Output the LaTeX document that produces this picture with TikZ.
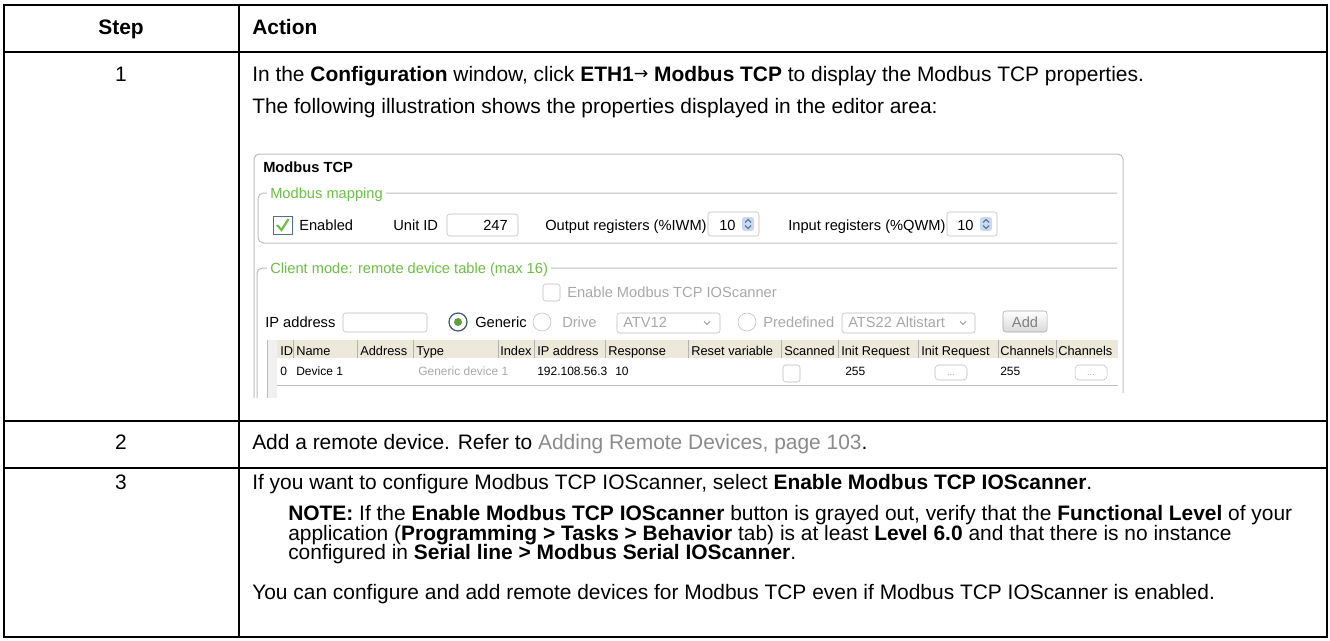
\documentclass[tikz,border=0pt]{standalone}
\usepackage{fontspec}
\setmainfont{Liberation Sans}
\newfontfamily\arrowfont{DejaVu Sans}
\usetikzlibrary{positioning,arrows.meta}
\definecolor{linkgray}{HTML}{8A8A8A}
\definecolor{greytext}{HTML}{A8A8A8}
\definecolor{mapgreen}{HTML}{6DBE45}
\definecolor{framegray}{HTML}{BDBDBD}
\definecolor{headtan}{HTML}{ECE9DA}
\definecolor{boxblue}{HTML}{4F6F8F}
\definecolor{spinblue}{HTML}{C9D8F0}
\tikzstyle{grid} = [
line width=1.5pt
]
\tikzstyle{body} = [
font=\fontsize{15.7}{18}\selectfont,
inner sep=0pt,
anchor=base west
]
\tikzstyle{head} = [
body,
font=\fontsize{15.7}{18}\selectfont\bfseries
]
\tikzstyle{ui} = [
font=\fontsize{11}{13}\selectfont,
inner sep=0pt,
anchor=base west
]
\tikzstyle{uigray} = [
ui,
text=greytext
]
\tikzstyle{tab} = [
ui,
font=\fontsize{9.6}{11}\selectfont
]
\tikzstyle{cell} = [
ui,
font=\fontsize{9}{11}\selectfont
]
\tikzstyle{group} = [
ui,
text=mapgreen,
fill=white,
inner xsep=2.25pt,
inner ysep=1pt
]
\tikzstyle{frame} = [
draw=framegray,
line width=0.75pt
]
\tikzstyle{field} = [
draw=framegray,
fill=white,
rounded corners=2pt
]
\newcommand{\spinner}[1]{%
\begin{scope}[shift={#1}]
\fill[spinblue,rounded corners=2pt] (-6,-7) rectangle (6,7);
\draw[boxblue,line width=0.8pt] (-3,-1.5) -- (0,-4.5) -- (3,-1.5);
\draw[boxblue,line width=0.8pt] (-3,1.5) -- (0,4.5) -- (3,1.5);
\end{scope}}
\newcommand{\dropdown}[1]{%
\begin{scope}[shift={#1}]
\draw[framegray!80!black,line width=0.7pt] (-3,-1.5) -- (0,1.5) -- (3,-1.5);
\end{scope}}
\begin{document}
\begin{tikzpicture}[x=0.75pt,y=-0.75pt]
\useasboundingbox (0,0) rectangle (1330,640);
%Grid
\draw[grid] (4,5) rectangle (1327,637);
\draw[grid] (239,5) -- (239,637);
\draw[grid] (4,52) -- (1327,52);
\draw[grid] (4,421) -- (1327,421);
\draw[grid] (4,468) -- (1327,468);
%Header
\node[head,anchor=base] (step) at (121,34) {Step};
\node[head] (action) at (252,34) {Action};
%Step 1
\node[body,anchor=base] (num1) at (121,81) {1};
\node[body] (click) at (252,81) {In the \textbf{Configuration} window, click \textbf{ETH1}\raisebox{1.5pt}{\arrowfont\fontsize{13}{15}\selectfont →} \textbf{Modbus TCP} to display the Modbus TCP properties.};
\node[body] (shows) at (252,113) {The following illustration shows the properties displayed in the editor area:};
%Screenshot
\draw[frame,rounded corners=4pt] (254,398) -- (254,154) -- (1123,154) -- (1123,393);
\node[ui,font=\fontsize{11}{13}\selectfont\bfseries] (title) at (263,172) {Modbus TCP};
\draw[frame,rounded corners=4pt] (1117,193) -- (258,193) -- (258,243) -- (1117,243);
\node[group] (mapping) at (267,198) {Modbus mapping};
\draw[draw=boxblue,fill=white] (273,216) rectangle (292,234);
\draw[mapgreen,line width=1.6pt] (277,225) -- (281.5,230) -- (288.5,219);
\node[ui] (enabled) at (299,230) {Enabled};
\node[ui] (unitid) at (393,230) {Unit ID};
\draw[field] (447,214) rectangle (518,236);
\node[ui,anchor=base east] (unitval) at (508,230) {247};
\node[ui] (outreg) at (545,230) {Output registers (\%IWM)};
\draw[field] (708,212) rectangle (759,236);
\node[ui] (outval) at (719,230) {10};
\spinner{(748,224)}
\node[ui] (inreg) at (788,230) {Input registers (\%QWM)};
\draw[field] (947,212) rectangle (997,236);
\node[ui] (inval) at (957,230) {10};
\spinner{(986,224)}
\draw[frame,rounded corners=4pt] (1117,268) -- (257,268) -- (257,398);
\node[group] (client) at (267,273) {Client mode: remote device table (max 16)};
\draw[field] (543,284) rectangle (560,301);
\node[uigray] (scanner) at (567,297) {Enable Modbus TCP IOScanner};
\node[ui] (ipaddr) at (265,327) {IP address};
\draw[field] (343,313) rectangle (427,332);
\draw[draw=boxblue!80!black,fill=white,line width=0.9pt] (458,322) circle (9);
\fill[mapgreen!85!black] (458,322) circle (4);
\node[ui] (generic) at (475,327) {Generic};
\draw[draw=framegray,fill=white] (542,322) circle (9);
\node[uigray] (drive) at (562,327) {Drive};
\draw[field] (617,313) rectangle (720,333);
\node[uigray] (atv) at (623,327) {ATV12};
\dropdown{(707,323)}
\draw[draw=framegray,fill=white] (747,322) circle (9);
\node[uigray] (predef) at (763,327) {Predefined};
\draw[field] (842,313) rectangle (975,333);
\node[uigray] (ats) at (848,327) {ATS22 Altistart};
\dropdown{(963,323)}
\draw[draw=gray!70,rounded corners=2pt,top color=white,bottom color=gray!30] (1003,311) rectangle (1047,332);
\node[uigray,anchor=base,text=gray] (add) at (1025,327) {Add};
%Device table
\fill[headtan] (277,340) rectangle (1118,358);
\fill[gray!12] (267,340) rectangle (277,398);
\draw[frame] (267,340) -- (267,398);
\foreach \x/\t in {280/ID,296/Name,360/Address,416/Type,500/Index,537/IP address,608/Response,691/Reset variable,784/Scanned,841/Init Request,921/Init Request,1000/Channels,1058/Channels}
\node[tab] (col\x) at (\x,355) {\t};
\foreach \x in {293,357,413,498,534,605,688,781,838,918,998,1056}
\draw[frame,draw=gray!60] (\x,340) -- (\x,358);
\node[cell] (devid) at (280,375) {0};
\node[cell] (devname) at (296,375) {Device 1};
\node[cell,text=greytext] (devtype) at (418,375) {Generic device 1};
\node[cell] (devip) at (537,375) {192.108.56.3};
\node[cell] (devresp) at (615,375) {10};
\draw[field] (783,365) rectangle (800,382);
\node[cell] (initval) at (845,375) {255};
\draw[field,rounded corners=3pt] (935,365) rectangle (967,380);
\node[cell,anchor=base,text=greytext,font=\fontsize{7}{8}\selectfont] (initbtn) at (951,375) {...};
\node[cell] (chanval) at (1000,375) {255};
\draw[field,rounded corners=3pt] (1075,365) rectangle (1107,380);
\node[cell,anchor=base,text=greytext,font=\fontsize{7}{8}\selectfont] (chanbtn) at (1091,375) {...};
\draw[frame] (277,385) -- (1118,385);
%Step 2
\node[body,anchor=base] (num2) at (121,449) {2};
\node[body] (refer) at (252,449) {Add a remote device. Refer to {\color{linkgray}Adding Remote Devices, page 103}.};
%Step 3
\node[body,anchor=base] (num3) at (121,489) {3};
\node[body] (select) at (252,489) {If you want to configure Modbus TCP IOScanner, select \textbf{Enable Modbus TCP IOScanner}.};
\node[body] (note1) at (288,520) {\textbf{NOTE:} If the \textbf{Enable Modbus TCP IOScanner} button is grayed out, verify that the \textbf{Functional Level} of your};
\node[body] (note2) at (288,540) {application (\textbf{Programming > Tasks > Behavior} tab) is at least \textbf{Level 6.0} and that there is no instance};
\node[body] (note3) at (288,559) {configured in \textbf{Serial line > Modbus Serial IOScanner}.};
\node[body] (enabled3) at (252,599) {You can configure and add remote devices for Modbus TCP even if Modbus TCP IOScanner is enabled.};
\end{tikzpicture}
\end{document}
